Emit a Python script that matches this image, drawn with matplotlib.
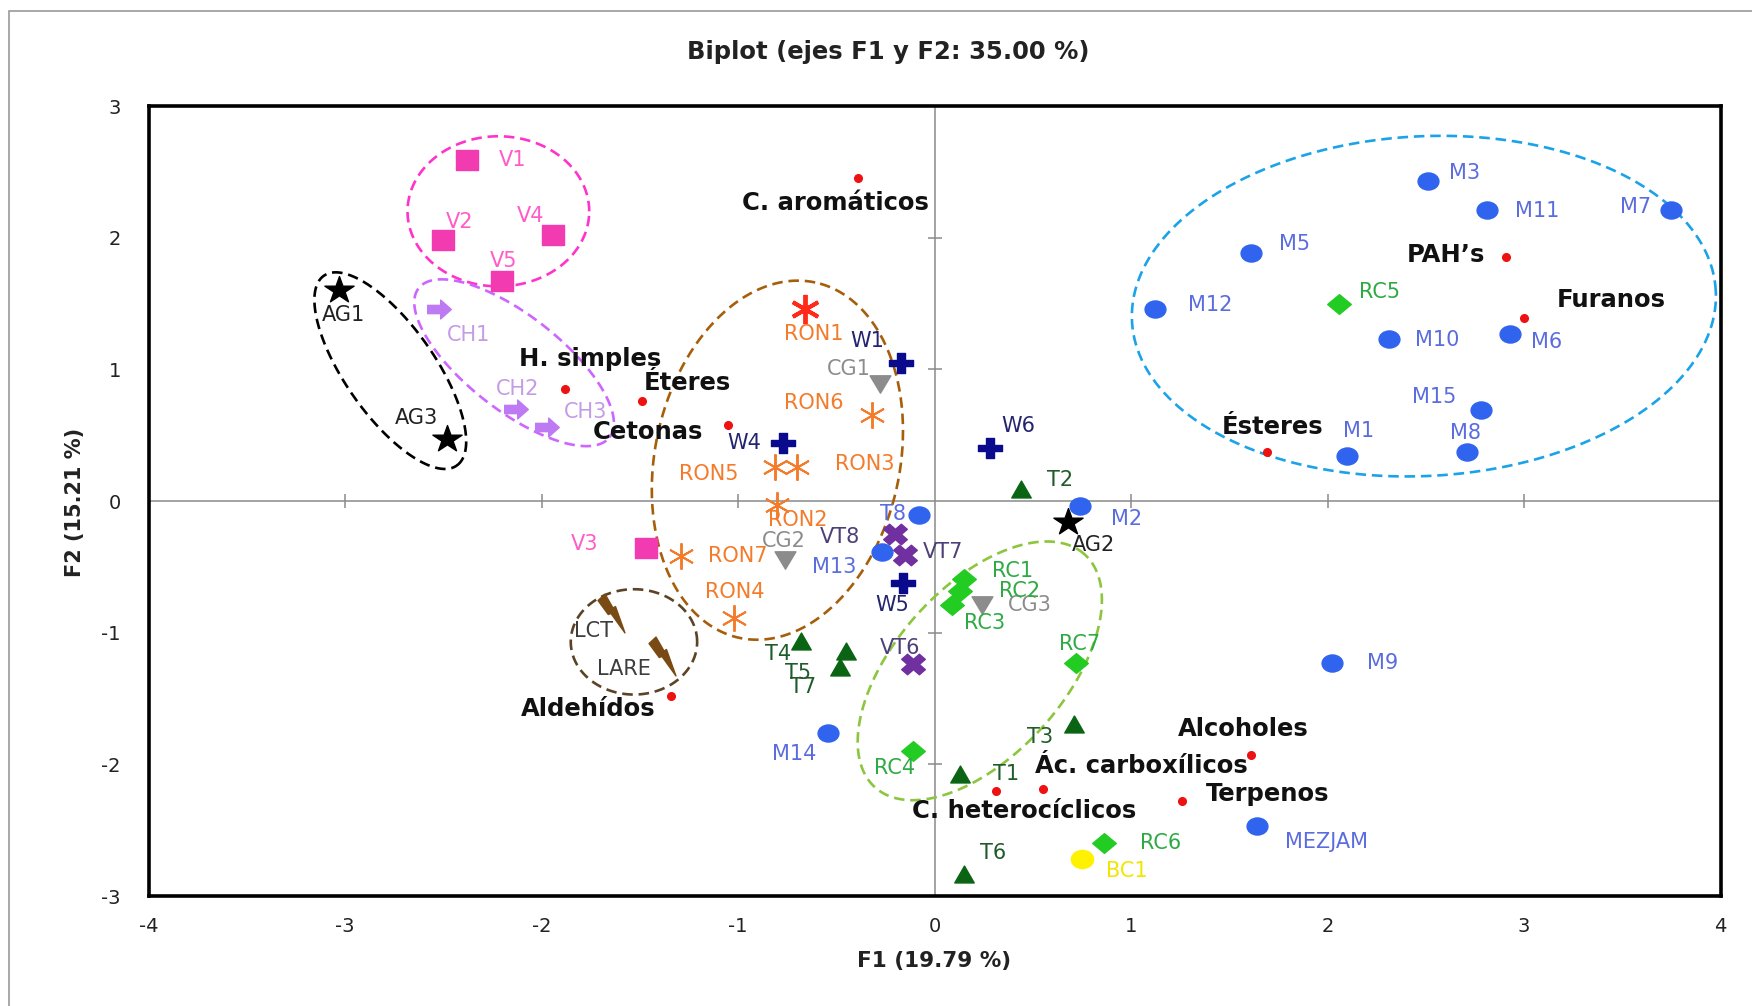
import matplotlib
matplotlib.use('Agg')
import matplotlib.pyplot as plt
import numpy as np
from matplotlib.path import Path
from matplotlib.patches import Rectangle
from matplotlib.markers import MarkerStyle
from matplotlib.transforms import Affine2D

# ---------------- data ----------------
v_names = ['V1', 'V2', 'V3', 'V4', 'V5']
v_x = [-2.38, -2.50, -1.47, -1.94, -2.20]
v_y = [2.59, 1.98, -0.36, 2.02, 1.67]

ag_names = ['AG1', 'AG2', 'AG3']
ag_x = [-3.03, 0.68, -2.48]
ag_y = [1.60, -0.16, 0.47]

ch_names = ['CH1', 'CH2', 'CH3']
ch_x = [-2.52, -2.13, -1.97]
ch_y = [1.46, 0.70, 0.56]

ron_names = ['RON1', 'RON2', 'RON3', 'RON4', 'RON5', 'RON6', 'RON7']
ron_x = [-0.66, -0.80, -0.70, -1.02, -0.81, -0.32, -1.29]
ron_y = [1.46, -0.03, 0.26, -0.89, 0.26, 0.65, -0.42]

w_names = ['W1', 'W4', 'W5', 'W6']
w_x = [-0.17, -0.77, -0.16, 0.28]
w_y = [1.05, 0.44, -0.62, 0.40]

cg_names = ['CG1', 'CG2', 'CG3']
cg_x = [-0.28, -0.76, 0.24]
cg_y = [0.89, -0.45, -0.79]

m_names = ['M1', 'M2', 'M3', 'M5', 'M6', 'M7', 'M8', 'M9', 'M10', 'M11',
           'M12', 'M13', 'M14', 'M15', 'MEZJAM', 'T8']
m_x = [2.10, 0.74, 2.51, 1.61, 2.93, 3.75, 2.71, 2.02, 2.31, 2.81,
       1.12, -0.27, -0.54, 2.78, 1.64, -0.08]
m_y = [0.34, -0.04, 2.43, 1.88, 1.27, 2.21, 0.37, -1.23, 1.23, 2.21,
       1.46, -0.39, -1.76, 0.69, -2.47, -0.11]

vt_names = ['VT6', 'VT7', 'VT8']
vt_x = [-0.11, -0.15, -0.20]
vt_y = [-1.24, -0.41, -0.25]

rc_names = ['RC1', 'RC2', 'RC3', 'RC4', 'RC5', 'RC6', 'RC7']
rc_x = [0.15, 0.13, 0.09, -0.11, 2.06, 0.86, 0.72]
rc_y = [-0.59, -0.68, -0.79, -1.90, 1.50, -2.60, -1.23]

t_names = ['T1', 'T2', 'T3', 'T4', 'T5', 'T6', 'T7']
t_x = [0.13, 0.44, 0.71, -0.68, -0.45, 0.15, -0.48]
t_y = [-2.07, 0.09, -1.69, -1.06, -1.14, -2.83, -1.26]

l_names = ['LCT', 'LARE']
l_x = [-1.64, -1.38]
l_y = [-0.85, -1.18]

bc_names = ['BC1']
bc_x = [0.75]
bc_y = [-2.72]

var_names = ['C. aromáticos', "PAH’s", 'Furanos', 'Ésteres', 'H. simples',
             'Éteres', 'Cetonas', 'Aldehídos', 'Alcoholes',
             'Ác. carboxílicos', 'C. heterocíclicos', 'Terpenos']
var_x = [-0.39, 2.91, 3.00, 1.69, -1.88, -1.49, -1.05, -1.34, 1.61, 0.55, 0.31, 1.26]
var_y = [2.45, 1.85, 1.39, 0.37, 0.85, 0.76, 0.58, -1.48, -1.93, -2.19, -2.20, -2.28]

x_ticks = [-4, -3, -2, -1, 0, 1, 2, 3, 4]
y_ticks = [-3, -2, -1, 0, 1, 2, 3]

title = 'Biplot (ejes F1 y F2: 35.00 %)'
x_label = 'F1 (19.79 %)'
y_label = 'F2 (15.21 %)'

# ---------------- label offsets (pixels) ----------------
label_off = {
    'V1': (46, 0), 'V2': (16, 18), 'V4': (-23, 19), 'V5': (1, 20), 'V3': (-61, 4),
    'AG1': (4, -25), 'AG3': (-31, 21), 'AG2': (25, -23),
    'CH1': (29, -26), 'CH2': (2, 20), 'CH3': (38, 15),
    'RON1': (9, -25), 'RON6': (-58, 12), 'RON3': (68, 3), 'RON5': (-67, -7),
    'RON2': (20, -15), 'RON7': (57, 0), 'RON4': (1, 26),
    'W1': (-34, 22), 'W4': (-39, 0), 'W6': (29, 22), 'W5': (-11, -22),
    'CG1': (-31, 15), 'CG2': (-1, 19), 'CG3': (48, 0),
    'M3': (37, 8), 'M11': (50, -1), 'M7': (-36, 3), 'M5': (44, 9), 'M12': (56, 4),
    'M10': (49, -1), 'M6': (36, -8), 'M15': (-47, 13), 'M8': (-2, 19), 'M1': (11, 25),
    'M2': (47, -13), 'T8': (-26, 1), 'M13': (-47, -15), 'M9': (51, 0),
    'M14': (-34, -21), 'MEZJAM': (70, -16),
    'VT8': (-55, -3), 'VT7': (38, 3), 'VT6': (-13, 16),
    'RC5': (40, 11), 'RC1': (48, 8), 'RC2': (59, 0), 'RC3': (32, -18),
    'RC7': (3, 19), 'RC4': (-18, -17), 'RC6': (57, 0),
    'T2': (39, 9), 'T4': (-23, -13), 'T5': (-48, -22), 'T7': (-37, -20),
    'T3': (-34, -13), 'T1': (46, 0), 'T6': (29, 21),
    'LCT': (-19, -18), 'LARE': (-39, -13), 'BC1': (45, -12),
    'C. aromáticos': (-23, -25), "PAH’s": (-60, 2), 'Furanos': (87, 18),
    'Ésteres': (6, 25), 'H. simples': (25, 30), 'Éteres': (46, 18),
    'Cetonas': (-80, -7), 'Aldehídos': (-83, -13), 'Alcoholes': (-8, 26),
    'Ác. carboxílicos': (99, 23), 'C. heterocíclicos': (29, -20), 'Terpenos': (85, 7),
}


# ---------------- custom markers ----------------
def stretched(m, sx=1.2):
    ms = MarkerStyle(m)
    p = ms.get_path().transformed(ms.get_transform())
    return p.transformed(Affine2D().scale(sx, 1))


arrow = Path([(-1, -0.35), (0.1, -0.35), (0.1, -0.8), (1, 0), (0.1, 0.8),
              (0.1, 0.35), (-1, 0.35), (-1, -0.35)],
             [Path.MOVETO] + [Path.LINETO] * 6 + [Path.CLOSEPOLY])
bolt = Path([(-0.58, 0.52), (-0.3, 0.78), (0.02, 0.22), (0.12, 0.28), (0.5, -0.78),
             (-0.06, 0.0), (-0.17, -0.04), (-0.58, 0.52)],
            [Path.MOVETO] + [Path.LINETO] * 6 + [Path.CLOSEPOLY])

fig = plt.figure(figsize=(17.52, 10.06), dpi=100)
fig.patch.set_facecolor('white')
ax = fig.add_axes([148.6 / 1752, 1 - 896 / 1006, 1572 / 1752, 790 / 1006])

ax.set_xlim(-4, 4)
ax.set_ylim(-3, 3)
ax.axhline(0, color='#8a8a8a', lw=1.1, zorder=1)
ax.axvline(0, color='#8a8a8a', lw=1.1, zorder=1)
for xt in x_ticks[1:-1]:
    if xt != 0:
        ax.plot([xt], [0], marker='|', ms=10, color='#8a8a8a', mew=1.1, zorder=1)
for yt in y_ticks[1:-1]:
    if yt != 0:
        ax.plot([0], [yt], marker='_', ms=10, color='#8a8a8a', mew=1.1, zorder=1)

# ellipses (center x, center y, semi-axis a, semi-axis b [y units], angle deg, color)
ellipses = [
    (-2.22, 2.20, 0.69, 0.57, 0, '#FF33CC'),
    (-2.77, 0.99, 0.88, 0.34, -55, '#000000'),
    (-2.14, 1.05, 0.92, 0.36, -38, '#CC66FF'),
    (-0.80, 0.31, 1.38, 0.93, 78, '#A65E0A'),
    (-1.53, -1.07, 0.48, 0.40, 0, '#5C4326'),
    (0.23, -1.29, 1.19, 0.64, 48, '#8CC63F'),
    (2.49, 1.48, 2.22, 1.29, 3, '#1AA3E8'),
]
k = (1572 / 8) / (790 / 6)
t = np.linspace(0, 2 * np.pi, 400)
for cx, cy, a, b, ang, col in ellipses:
    th = np.deg2rad(ang)
    u = a * np.cos(t)
    v = b * np.sin(t)
    ur = u * np.cos(th) - v * np.sin(th)
    vr = u * np.sin(th) + v * np.cos(th)
    ax.plot(cx + ur / k, cy + vr, ls=(0, (4, 2.2)), lw=1.9, color=col, zorder=2)

LFS = 15
groups = [
    (v_names, v_x, v_y, stretched('s', 1.15), 16, '#F23BB0', '#FF5CC8'),
    (ag_names, ag_x, ag_y, stretched('*', 1.1), 21, '#000000', '#222222'),
    (ch_names, ch_x, ch_y, arrow, 17, '#BE7AF2', '#C49BE6'),
    (w_names, w_x, w_y, stretched('P', 1.15), 17, '#0A0A8C', '#24246E'),
    (cg_names, cg_x, cg_y, stretched('v', 1.2), 15, '#8C8C8C', '#8C8C8C'),
    (m_names, m_x, m_y, stretched('o', 1.22), 15, '#3064EE', '#5B6CDE'),
    (vt_names, vt_x, vt_y, stretched('X', 1.15), 17, '#7030A0', '#4E3F78'),
    (rc_names, rc_x, rc_y, stretched('D', 1.2), 17, '#22CC22', '#2EAA44'),
    (t_names, t_x, t_y, stretched('^', 1.15), 14, '#0B6414', '#1F5C2A'),
    (l_names, l_x, l_y, bolt, 28, '#7A4A14', '#3D3D3D'),
    (bc_names, bc_x, bc_y, stretched('o', 1.22), 16, '#FFF200', '#F2E600'),
]
for names, xs, ys, mk, ms, col, lcol in groups:
    ax.plot(xs, ys, ls='none', marker=mk, ms=ms, color=col, mec=col, zorder=4)
    for n, x, y in zip(names, xs, ys):
        dx, dy = label_off[n]
        ax.annotate(n, (x, y), xytext=(dx, dy), textcoords='offset pixels',
                    ha='center', va='center', fontsize=LFS, color=lcol,
                    family='DejaVu Sans', zorder=5)

# RON asterisks
ron_col = ['#FF2A1A'] + ['#F47B2A'] * 6
for n, x, y, c in zip(ron_names, ron_x, ron_y, ron_col):
    big = n == 'RON1'
    ax.plot([x], [y], ls='none', marker=(6, 2, 0), ms=21 if big else 19,
            mew=2.8 if big else 1.4, color=c, zorder=4)
    dx, dy = label_off[n]
    ax.annotate(n, (x, y), xytext=(dx, dy), textcoords='offset pixels',
                ha='center', va='center', fontsize=LFS, color='#F47B2A',
                family='DejaVu Sans', zorder=5)

# variables
ax.plot(var_x, var_y, ls='none', marker='o', ms=5.5, color='#EE1111', zorder=4)
for n, x, y in zip(var_names, var_x, var_y):
    dx, dy = label_off[n]
    ax.annotate(n, (x, y), xytext=(dx, dy), textcoords='offset pixels',
                ha='center', va='center', fontsize=17.5, fontweight='bold',
                color='#111111', family='DejaVu Sans', zorder=6)

ax.set_xticks(x_ticks)
ax.set_yticks(y_ticks)
ax.set_xticklabels([str(v) for v in x_ticks])
ax.set_yticklabels([str(v) for v in y_ticks])
ax.tick_params(axis='both', length=0, labelsize=14, colors='#222222')
ax.tick_params(axis='x', pad=15)
ax.tick_params(axis='y', pad=20)
for s in ax.spines.values():
    s.set_linewidth(2.6)
    s.set_color('black')

fig.text(888 / 1752, 1 - 52 / 1006, title, ha='center', va='center',
         fontsize=17.5, fontweight='bold', color='#222222')
fig.text(934 / 1752, 1 - 961 / 1006, x_label, ha='center', va='center',
         fontsize=15.5, fontweight='bold', color='#222222')
fig.text(75 / 1752, 1 - 502 / 1006, y_label, ha='center', va='center',
         rotation=90, fontsize=15, fontweight='bold', color='#222222')

fig.patches.append(Rectangle((9 / 1752, -0.2), 1.2, 1.2 - 11 / 1006,
                             transform=fig.transFigure, fill=False,
                             edgecolor='#9a9a9a', lw=1.2))

fig.savefig('out.png', dpi=100)
